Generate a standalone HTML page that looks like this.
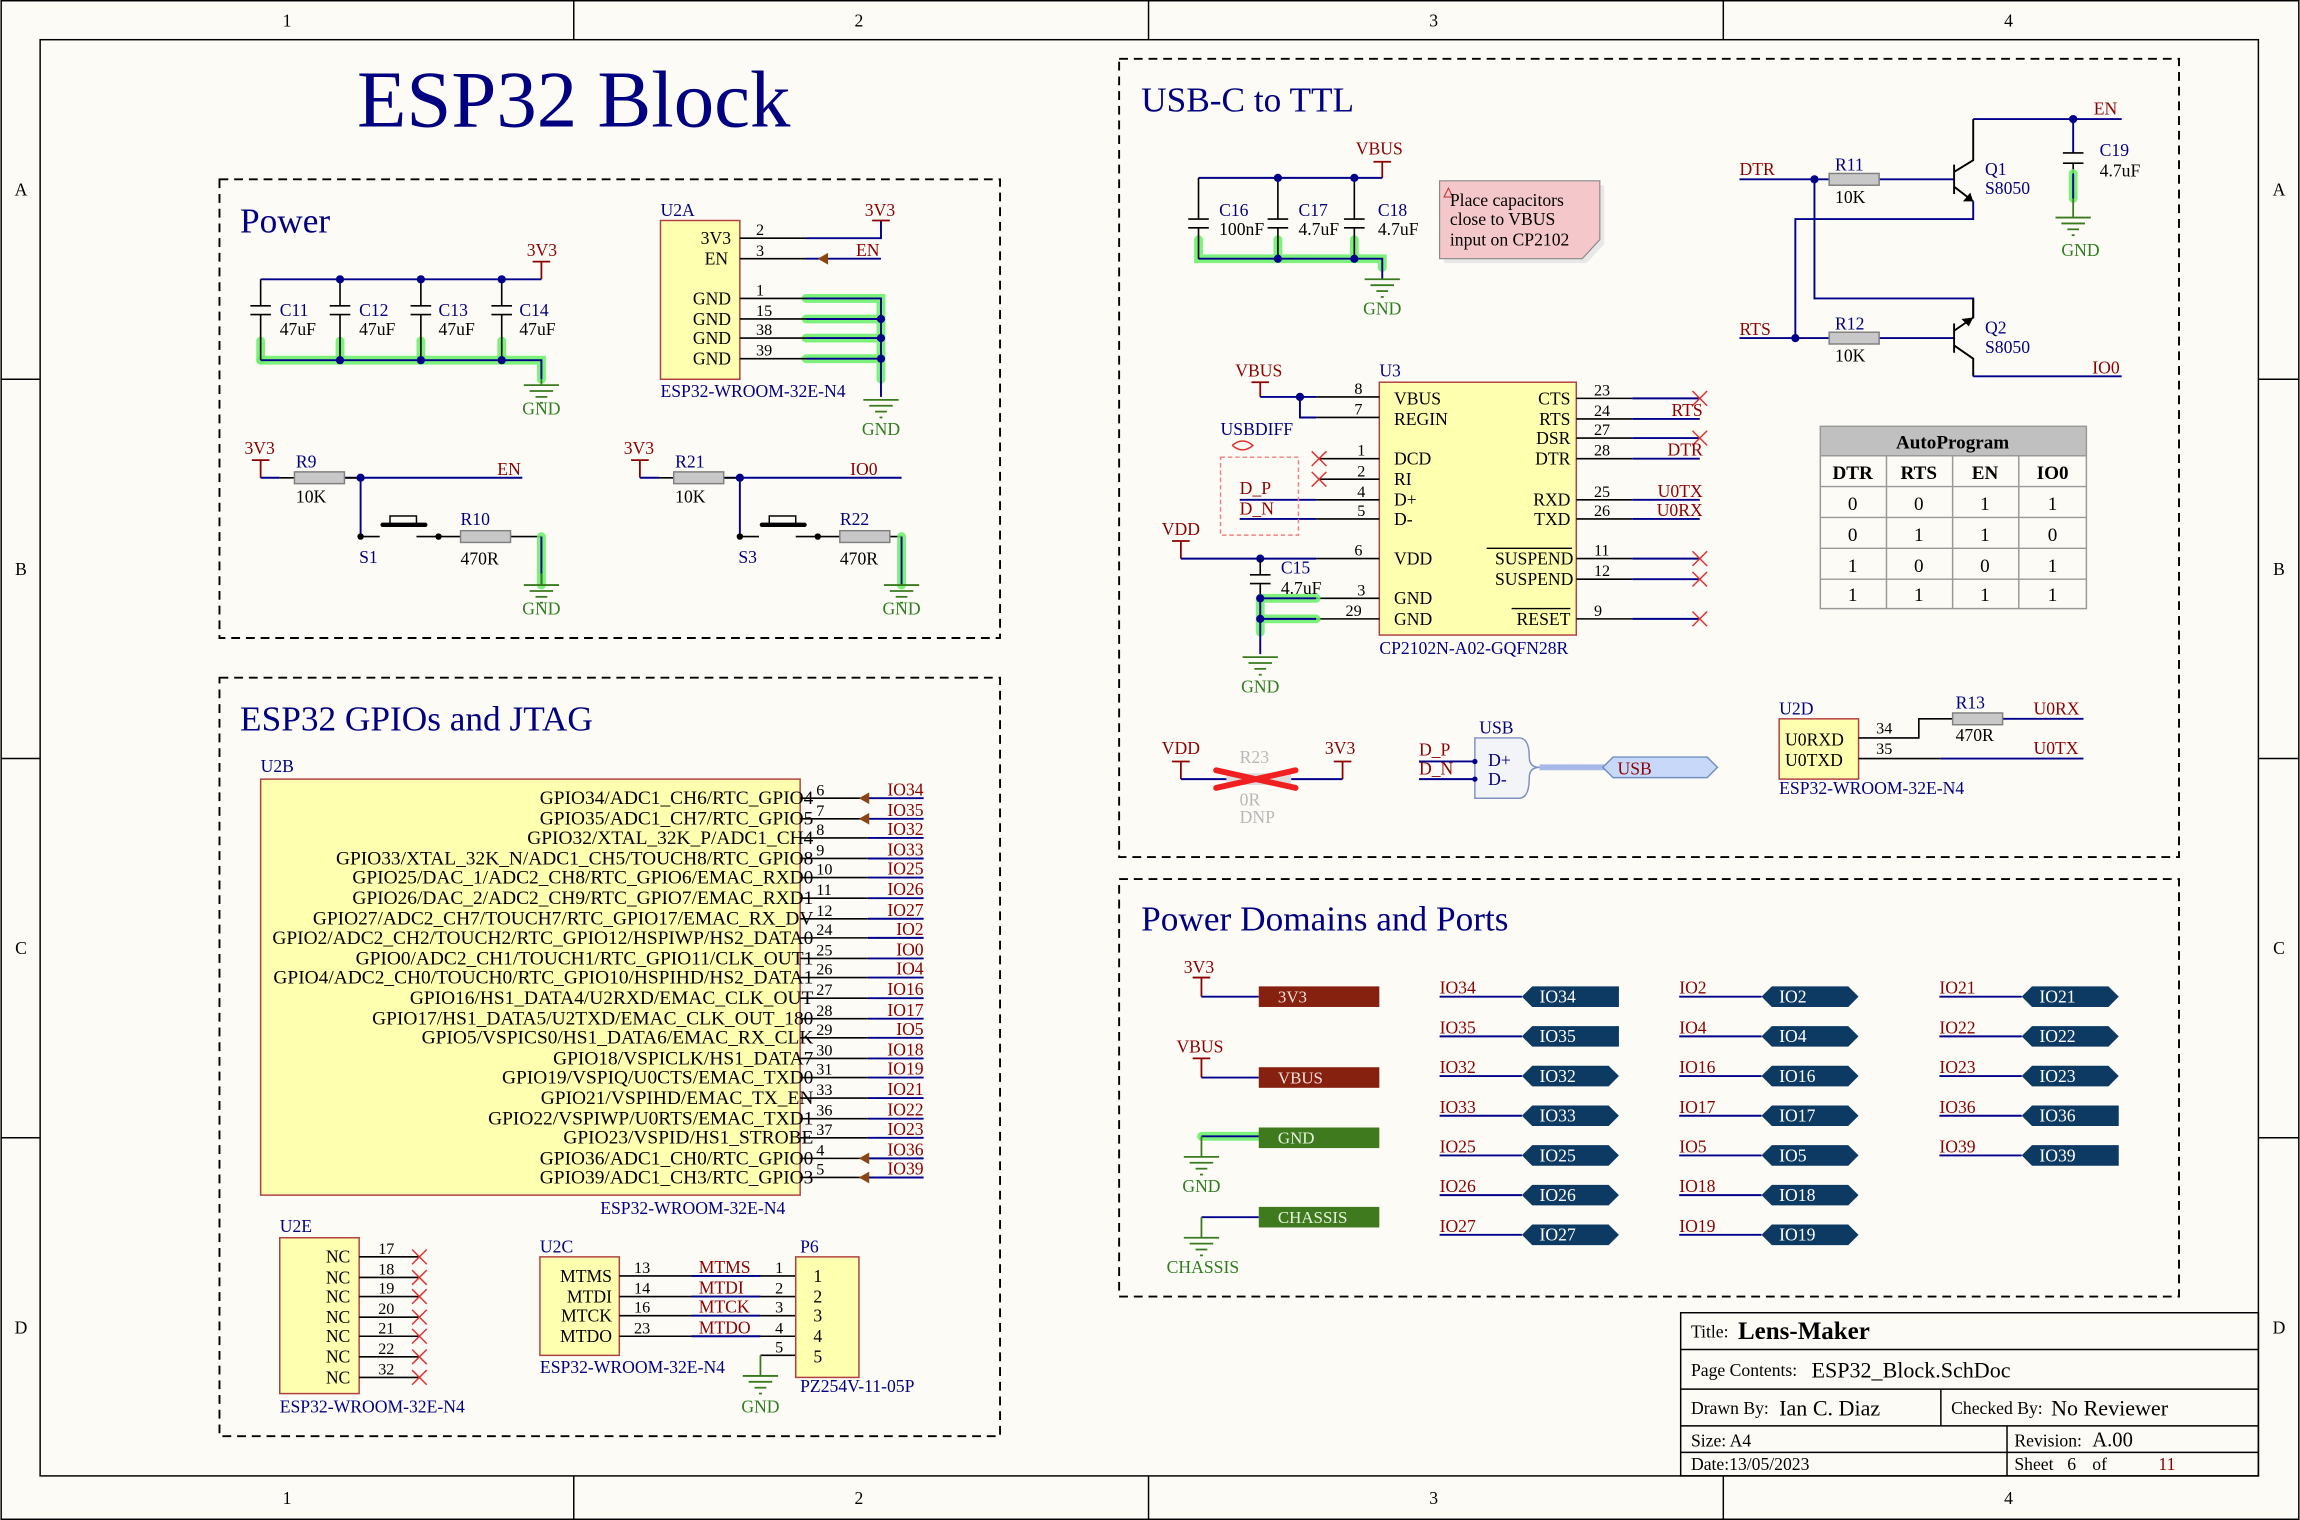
<!DOCTYPE html>
<html><head><meta charset="utf-8"><style>
html,body{margin:0;padding:0;background:#fff}
svg{display:block}
text{font-family:"Liberation Serif",serif}
.n{fill:#000080}.r{fill:#8b0000}.k{fill:#000}.g{fill:#2e7d1e}.w{fill:#fff}
.wi{stroke:#00008b;stroke-width:1.3;fill:none}
.pl{stroke:#000;stroke-width:1.1;fill:none}
.rf{stroke:#8b0000;stroke-width:1.2;fill:none}
.gr{stroke:#3a7a1e;stroke-width:1.2;fill:none}
.hl{stroke:#66ee66;stroke-width:6;fill:none;stroke-linecap:round;opacity:.85}
.dash{stroke:#000;stroke-width:1.3;stroke-dasharray:6,4;fill:none}
.chip{fill:#ffffb0;stroke:#b04040;stroke-width:1}
.res{fill:#c8c8c8;stroke:#808080;stroke-width:1}
.xx{stroke:#e03030;stroke-width:1}
</style></head><body>
<svg width="2300" height="1520" viewBox="0 0 1564 1034" xmlns="http://www.w3.org/2000/svg">
<defs>
<g id="gnd"><line x1="-12" y1="0" x2="12" y2="0" class="gr"/><line x1="-8" y1="4" x2="8" y2="4" class="gr"/><line x1="-4" y1="8" x2="4" y2="8" class="gr"/><line x1="-1" y1="12" x2="1" y2="12" class="gr"/></g>
<g id="x"><line x1="-5" y1="-5" x2="5" y2="5" class="xx"/><line x1="-5" y1="5" x2="5" y2="-5" class="xx"/></g>
<g id="pbi"><polygon points="0,0 7,-7 66,-7 66,7 7,7" fill="#0d3a63"/></g>
<g id="pbb"><polygon points="0,0 7,-7 59,-7 66,0 59,7 7,7" fill="#0d3a63"/></g>
</defs>
<rect x="0" y="0" width="1564" height="1034" fill="#fdfbf6"/>
<rect x="0.5" y="0.5" width="1563" height="1033" fill="none" stroke="#000"/>
<rect x="27" y="27" width="1509" height="977" fill="#fdfbf6" stroke="#000"/>
<g stroke="#000" stroke-width="1"><line x1="390" y1="0" x2="390" y2="27"/><line x1="781" y1="0" x2="781" y2="27"/><line x1="1172" y1="0" x2="1172" y2="27"/>
<line x1="390" y1="1004" x2="390" y2="1034"/><line x1="781" y1="1004" x2="781" y2="1034"/><line x1="1172" y1="1004" x2="1172" y2="1034"/>
<line x1="0" y1="258" x2="27" y2="258"/><line x1="0" y1="516" x2="27" y2="516"/><line x1="0" y1="774" x2="27" y2="774"/>
<line x1="1536" y1="258" x2="1564" y2="258"/><line x1="1536" y1="516" x2="1564" y2="516"/><line x1="1536" y1="774" x2="1564" y2="774"/></g>
<g class="k" font-size="12" text-anchor="middle">
<text x="195" y="18">1</text><text x="584" y="18">2</text><text x="975" y="18">3</text><text x="1366" y="18">4</text>
<text x="195" y="1023">1</text><text x="584" y="1023">2</text><text x="975" y="1023">3</text><text x="1366" y="1023">4</text>
<text x="14" y="133">A</text><text x="14" y="391">B</text><text x="14" y="649">C</text><text x="14" y="907">D</text>
<text x="1550" y="133">A</text><text x="1550" y="391">B</text><text x="1550" y="649">C</text><text x="1550" y="907">D</text></g>

<text x="390" y="86" class="n" font-size="55" text-anchor="middle">ESP32 Block</text>

<rect x="149" y="122" width="531" height="312" class="dash"/>
<rect x="149" y="461" width="531" height="516" class="dash"/>
<rect x="761" y="40" width="721" height="543" class="dash"/>
<rect x="761" y="598" width="721" height="284" class="dash"/>
<text x="163" y="158" class="n" font-size="24">Power</text>
<text x="163" y="497" class="n" font-size="24">ESP32 GPIOs and JTAG</text>
<text x="776" y="76" class="n" font-size="24">USB-C to TTL</text>
<text x="776" y="633" class="n" font-size="24">Power Domains and Ports</text>

<text x="358" y="174" class="r" font-size="12">3V3</text>
<path d="M362 178H374M368 178V190" class="rf"/>
<path d="M177 190H368" class="wi"/>
<path d="M177 245H368V258" class="hl"/><path d="M177 232V245M231 232V245M286 232V245M341 232V245" class="hl"/>
<path d="M177 245H368V258" class="wi"/>
<g class="pl"><path d="M177 190V208M170 208H184M170 214H184M177 214V245"/><path d="M231 190V208M224 208H238M224 214H238M231 214V245"/><path d="M286 190V208M279 208H293M279 214H293M286 214V245"/><path d="M341 190V208M334 208H348M334 214H348M341 214V245"/></g>
<g fill="#00008b"><circle cx="231" cy="190" r="2.8"/><circle cx="286" cy="190" r="2.8"/><circle cx="341" cy="190" r="2.8"/><circle cx="231" cy="245" r="2.8"/><circle cx="286" cy="245" r="2.8"/><circle cx="341" cy="245" r="2.8"/></g>
<g font-size="12"><text x="190" y="215" class="n">C11</text><text x="190" y="228" class="k">47uF</text><text x="244" y="215" class="n">C12</text><text x="244" y="228" class="k">47uF</text><text x="298" y="215" class="n">C13</text><text x="298" y="228" class="k">47uF</text><text x="353" y="215" class="n">C14</text><text x="353" y="228" class="k">47uF</text></g>
<path d="M368 258V262" class="gr"/><use href="#gnd" x="368" y="262"/><text x="368" y="282" class="g" font-size="12" text-anchor="middle">GND</text>

<text x="449" y="147" class="n" font-size="12">U2A</text>
<rect x="449" y="150" width="54" height="108" class="chip"/>
<g font-size="12" class="k" text-anchor="end"><text x="497" y="166">3V3</text><text x="495" y="180">EN</text><text x="497" y="207">GND</text><text x="497" y="221">GND</text><text x="497" y="234">GND</text><text x="497" y="248">GND</text></g>
<path d="M548 203H599V258M548 217H599M548 230H599M548 244H599" class="hl"/>
<g class="pl"><path d="M503 162H548M503 176H548M503 203H548M503 217H548M503 230H548M503 244H548"/></g>
<path d="M548 162H599V150M548 176H599M548 203H599V270M548 217H599M548 230H599M548 244H599" class="wi"/>
<path d="M593 150H605" class="rf"/>
<polygon points="556,176 563,172 563,180" fill="#8b4513"/>
<g fill="#00008b"><circle cx="599" cy="217" r="2.8"/><circle cx="599" cy="230" r="2.8"/><circle cx="599" cy="244" r="2.8"/></g>
<g font-size="11" class="k"><text x="514" y="160">2</text><text x="514" y="174">3</text><text x="514" y="201">1</text><text x="514" y="215">15</text><text x="514" y="228">38</text><text x="514" y="242">39</text></g>
<text x="588" y="147" class="r" font-size="12">3V3</text><text x="582" y="174" class="r" font-size="12">EN</text>
<text x="449" y="270" class="n" font-size="12">ESP32-WROOM-32E-N4</text>
<use href="#gnd" x="599" y="272"/><text x="599" y="296" class="g" font-size="12" text-anchor="middle">GND</text>

<g>
<text x="166" y="309" class="r" font-size="12">3V3</text>
<path d="M171 313H183M177 313V325" class="rf"/>
<path d="M177 325H190M234 325H355M245 325V365" class="wi"/>
<path d="M190 325H200M234 325H245" class="pl"/>
<rect x="200" y="321" width="34" height="8" class="res"/>
<circle cx="245" cy="325" r="2.8" fill="#00008b"/>
<path d="M245 365H258M283 365H298M298 365H313M347 365H368" class="pl"/>
<circle cx="245" cy="365" r="2.2" fill="#000"/><circle cx="298" cy="365" r="2.2" fill="#000"/>
<path d="M260 357H289" stroke="#000" stroke-width="3" stroke-linecap="round"/>
<rect x="265" y="351" width="18" height="6" fill="none" stroke="#000"/>
<rect x="313" y="361" width="34" height="8" class="res"/>
<path d="M368 365V398" class="hl"/><path d="M368 365V398" class="wi"/><path d="M368 390V398" class="gr"/>
<use href="#gnd" x="368" y="398"/>
<g font-size="12"><text x="201" y="318" class="n">R9</text><text x="201" y="342" class="k">10K</text><text x="244" y="383" class="n">S1</text><text x="313" y="357" class="n">R10</text><text x="313" y="384" class="k">470R</text><text x="355" y="418" class="g">GND</text><text x="338" y="323" class="r">EN</text></g>
</g>
<g transform="translate(258,0)">
<text x="166" y="309" class="r" font-size="12">3V3</text>
<path d="M171 313H183M177 313V325" class="rf"/>
<path d="M177 325H190M234 325H355M245 325V365" class="wi"/>
<path d="M190 325H200M234 325H245" class="pl"/>
<rect x="200" y="321" width="34" height="8" class="res"/>
<circle cx="245" cy="325" r="2.8" fill="#00008b"/>
<path d="M245 365H258M283 365H298M298 365H313M347 365H355" class="pl"/>
<circle cx="245" cy="365" r="2.2" fill="#000"/><circle cx="298" cy="365" r="2.2" fill="#000"/>
<path d="M260 357H289" stroke="#000" stroke-width="3" stroke-linecap="round"/>
<rect x="265" y="351" width="18" height="6" fill="none" stroke="#000"/>
<rect x="313" y="361" width="34" height="8" class="res"/>
<path d="M355 365V398" class="hl"/><path d="M355 365V398" class="wi"/>
<use href="#gnd" x="355" y="398"/>
<g font-size="12"><text x="201" y="318" class="n">R21</text><text x="201" y="342" class="k">10K</text><text x="244" y="383" class="n">S3</text><text x="313" y="357" class="n">R22</text><text x="313" y="384" class="k">470R</text><text x="342" y="418" class="g">GND</text><text x="320" y="323" class="r">IO0</text></g>
</g>

<text x="177" y="525" class="n" font-size="12">U2B</text>
<rect x="177" y="530" width="367" height="283" class="chip"/>
<g font-size="13.2" class="k" text-anchor="end">
<text x="553" y="547">GPIO34/ADC1_CH6/RTC_GPIO4</text>
<text x="553" y="561">GPIO35/ADC1_CH7/RTC_GPIO5</text>
<text x="553" y="574">GPIO32/XTAL_32K_P/ADC1_CH4</text>
<text x="553" y="588">GPIO33/XTAL_32K_N/ADC1_CH5/TOUCH8/RTC_GPIO8</text>
<text x="553" y="601">GPIO25/DAC_1/ADC2_CH8/RTC_GPIO6/EMAC_RXD0</text>
<text x="553" y="615">GPIO26/DAC_2/ADC2_CH9/RTC_GPIO7/EMAC_RXD1</text>
<text x="553" y="629">GPIO27/ADC2_CH7/TOUCH7/RTC_GPIO17/EMAC_RX_DV</text>
<text x="553" y="642">GPIO2/ADC2_CH2/TOUCH2/RTC_GPIO12/HSPIWP/HS2_DATA0</text>
<text x="553" y="656">GPIO0/ADC2_CH1/TOUCH1/RTC_GPIO11/CLK_OUT1</text>
<text x="553" y="669">GPIO4/ADC2_CH0/TOUCH0/RTC_GPIO10/HSPIHD/HS2_DATA1</text>
<text x="553" y="683">GPIO16/HS1_DATA4/U2RXD/EMAC_CLK_OUT</text>
<text x="553" y="697">GPIO17/HS1_DATA5/U2TXD/EMAC_CLK_OUT_180</text>
<text x="553" y="710">GPIO5/VSPICS0/HS1_DATA6/EMAC_RX_CLK</text>
<text x="553" y="724">GPIO18/VSPICLK/HS1_DATA7</text>
<text x="553" y="737">GPIO19/VSPIQ/U0CTS/EMAC_TXD0</text>
<text x="553" y="751">GPIO21/VSPIHD/EMAC_TX_EN</text>
<text x="553" y="765">GPIO22/VSPIWP/U0RTS/EMAC_TXD1</text>
<text x="553" y="778">GPIO23/VSPID/HS1_STROBE</text>
<text x="553" y="792">GPIO36/ADC1_CH0/RTC_GPIO0</text>
<text x="553" y="805">GPIO39/ADC1_CH3/RTC_GPIO3</text>
</g>
<g class="pl"><path d="M544 543H590M544 557H590M544 570H590M544 584H590M544 597H590M544 611H590M544 625H590M544 638H590M544 652H590M544 665H590M544 679H590M544 693H590M544 706H590M544 720H590M544 733H590M544 747H590M544 761H590M544 774H590M544 788H590M544 801H590"/></g>
<g class="wi"><path d="M590 543H628M590 557H628M590 570H628M590 584H628M590 597H628M590 611H628M590 625H628M590 638H628M590 652H628M590 665H628M590 679H628M590 693H628M590 706H628M590 720H628M590 733H628M590 747H628M590 761H628M590 774H628M590 788H628M590 801H628"/></g>
<g fill="#8b4513"><polygon points="584,543 591,539 591,547"/><polygon points="584,557 591,553 591,561"/><polygon points="584,788 591,784 591,792"/><polygon points="584,801 591,797 591,805"/></g>
<g font-size="11" class="k"><text x="555" y="541">6</text><text x="555" y="555">7</text><text x="555" y="568">8</text><text x="555" y="582">9</text><text x="555" y="595">10</text><text x="555" y="609">11</text><text x="555" y="623">12</text><text x="555" y="636">24</text><text x="555" y="650">25</text><text x="555" y="663">26</text><text x="555" y="677">27</text><text x="555" y="691">28</text><text x="555" y="704">29</text><text x="555" y="718">30</text><text x="555" y="731">31</text><text x="555" y="745">33</text><text x="555" y="759">36</text><text x="555" y="772">37</text><text x="555" y="786">4</text><text x="555" y="799">5</text></g>
<g font-size="12" class="r" text-anchor="end"><text x="628" y="541">IO34</text><text x="628" y="555">IO35</text><text x="628" y="568">IO32</text><text x="628" y="582">IO33</text><text x="628" y="595">IO25</text><text x="628" y="609">IO26</text><text x="628" y="623">IO27</text><text x="628" y="636">IO2</text><text x="628" y="650">IO0</text><text x="628" y="663">IO4</text><text x="628" y="677">IO16</text><text x="628" y="691">IO17</text><text x="628" y="704">IO5</text><text x="628" y="718">IO18</text><text x="628" y="731">IO19</text><text x="628" y="745">IO21</text><text x="628" y="759">IO22</text><text x="628" y="772">IO23</text><text x="628" y="786">IO36</text><text x="628" y="799">IO39</text></g>
<text x="408" y="826" class="n" font-size="12">ESP32-WROOM-32E-N4</text>

<text x="190" y="838" class="n" font-size="12">U2E</text>
<rect x="190" y="842" width="54" height="106" class="chip"/>
<g font-size="12" class="k" text-anchor="end"><text x="238" y="859">NC</text><text x="238" y="873">NC</text><text x="238" y="886">NC</text><text x="238" y="900">NC</text><text x="238" y="913">NC</text><text x="238" y="927">NC</text><text x="238" y="941">NC</text></g>
<path d="M244 855H285M244 869H285M244 882H285M244 896H285M244 909H285M244 923H285M244 937H285" class="pl"/>
<use href="#x" x="285" y="855"/><use href="#x" x="285" y="869"/><use href="#x" x="285" y="882"/><use href="#x" x="285" y="896"/><use href="#x" x="285" y="909"/><use href="#x" x="285" y="923"/><use href="#x" x="285" y="937"/>
<g font-size="11" class="k"><text x="257" y="853">17</text><text x="257" y="867">18</text><text x="257" y="880">19</text><text x="257" y="894">20</text><text x="257" y="907">21</text><text x="257" y="921">22</text><text x="257" y="935">32</text></g>
<text x="190" y="961" class="n" font-size="12">ESP32-WROOM-32E-N4</text>

<text x="367" y="852" class="n" font-size="12">U2C</text>
<rect x="367" y="855" width="54" height="67" class="chip"/>
<g font-size="12" class="k" text-anchor="end"><text x="416" y="872">MTMS</text><text x="416" y="886">MTDI</text><text x="416" y="899">MTCK</text><text x="416" y="913">MTDO</text></g>
<path d="M421 868H541M421 882H541M421 895H541M421 909H541M517 922H541" class="pl"/>
<path d="M470 868H517M470 882H517M470 895H517M470 909H517" class="wi"/>
<path d="M517 922V936" class="gr"/><use href="#gnd" x="517" y="936"/><text x="517" y="961" class="g" font-size="12" text-anchor="middle">GND</text>
<g font-size="11" class="k"><text x="431" y="866">13</text><text x="431" y="880">14</text><text x="431" y="893">16</text><text x="431" y="907">23</text>
<text x="527" y="866">1</text><text x="527" y="880">2</text><text x="527" y="893">3</text><text x="527" y="907">4</text><text x="527" y="920">5</text></g>
<g font-size="12" class="r"><text x="475" y="866">MTMS</text><text x="475" y="880">MTDI</text><text x="475" y="893">MTCK</text><text x="475" y="907">MTDO</text></g>
<text x="367" y="934" class="n" font-size="12">ESP32-WROOM-32E-N4</text>
<text x="544" y="852" class="n" font-size="12">P6</text>
<rect x="541" y="855" width="43" height="82" class="chip"/>
<g font-size="12" class="k"><text x="553" y="872">1</text><text x="553" y="886">2</text><text x="553" y="899">3</text><text x="553" y="913">4</text><text x="553" y="927">5</text></g>
<text x="544" y="947" class="n" font-size="12">PZ254V-11-05P</text>

<text x="922" y="105" class="r" font-size="12">VBUS</text>
<path d="M934 110H946M940 110V121" class="rf"/>
<path d="M815 121H940" class="wi"/>
<path d="M815 163V176H940V182M869 163V176M921 163V176" class="hl"/>
<path d="M815 176H940V190" class="wi"/>
<g class="pl"><path d="M815 121V149M808 149H822M808 155H822M815 155V176"/><path d="M869 121V149M862 149H876M862 155H876M869 155V176"/><path d="M921 121V149M914 149H928M914 155H928M921 155V176"/></g>
<g fill="#00008b"><circle cx="869" cy="121" r="2.8"/><circle cx="921" cy="121" r="2.8"/><circle cx="869" cy="176" r="2.8"/><circle cx="921" cy="176" r="2.8"/></g>
<use href="#gnd" x="940" y="190"/><text x="940" y="214" class="g" font-size="12" text-anchor="middle">GND</text>
<g font-size="12"><text x="829" y="147" class="n">C16</text><text x="829" y="160" class="k">100nF</text><text x="883" y="147" class="n">C17</text><text x="883" y="160" class="k">4.7uF</text><text x="937" y="147" class="n">C18</text><text x="937" y="160" class="k">4.7uF</text></g>
<polygon points="982,126 1091,126 1091,166 1079,179 982,179" fill="#e8e8e8"/>
<polygon points="979,123 1088,123 1088,163 1076,176 979,176" fill="#f4c8ca" stroke="#888" stroke-width="0.8"/>
<polygon points="982,134 985,128 988,134" fill="none" stroke="#c03030" stroke-width="0.7"/>
<g font-size="12" class="k"><text x="986" y="140">Place capacitors</text><text x="986" y="153">close to VBUS</text><text x="986" y="167">input on CP2102</text></g>

<text x="840" y="256" class="r" font-size="12">VBUS</text>
<path d="M851 260H863M857 260V270" class="rf"/>
<path d="M857 270H895M884 270V284H895" class="wi"/>
<circle cx="884" cy="270" r="2.8" fill="#00008b"/>
<text x="938" y="256" class="n" font-size="12">U3</text>
<rect x="938" y="260" width="134" height="172" class="chip"/>
<g font-size="12" class="k"><text x="948" y="275">VBUS</text><text x="948" y="289">REGIN</text><text x="948" y="316">DCD</text><text x="948" y="330">RI</text><text x="948" y="344">D+</text><text x="948" y="357">D-</text><text x="948" y="384">VDD</text><text x="948" y="411">GND</text><text x="948" y="425">GND</text></g>
<g font-size="12" class="k" text-anchor="end"><text x="1068" y="275">CTS</text><text x="1068" y="289">RTS</text><text x="1068" y="302">DSR</text><text x="1068" y="316">DTR</text><text x="1068" y="344">RXD</text><text x="1068" y="357">TXD</text><text x="1070" y="384">SUSPEND</text><text x="1070" y="398">SUSPEND</text><text x="1068" y="425">RESET</text></g>
<path d="M1011 373H1069M1028 414H1068" stroke="#000" stroke-width="0.9"/>
<g class="pl"><path d="M895 270H938M895 284H938M897 312H938M897 326H938M895 340H938M895 353H938M895 380H938M895 407H938M895 421H938"/>
<path d="M1072 271H1110M1072 285H1110M1072 298H1110M1072 312H1110M1072 340H1110M1072 353H1110M1072 380H1110M1072 394H1110M1072 421H1110"/></g>
<g class="wi"><path d="M1110 271H1156M1110 285H1156M1110 298H1156M1110 312H1156M1110 340H1156M1110 353H1156M1110 380H1156M1110 394H1156M1110 421H1156"/>
<path d="M843 340H895M843 353H895"/></g>
<use href="#x" x="1156" y="271"/><use href="#x" x="1156" y="298"/><use href="#x" x="1156" y="380"/><use href="#x" x="1156" y="394"/><use href="#x" x="1156" y="421"/>
<use href="#x" x="897" y="312"/><use href="#x" x="897" y="326"/>
<g font-size="11" class="k"><text x="921" y="268">8</text><text x="921" y="282">7</text><text x="923" y="310">1</text><text x="923" y="324">2</text><text x="923" y="338">4</text><text x="923" y="351">5</text><text x="921" y="378">6</text><text x="923" y="405">3</text><text x="915" y="419">29</text>
<text x="1084" y="269">23</text><text x="1084" y="283">24</text><text x="1084" y="296">27</text><text x="1084" y="310">28</text><text x="1084" y="338">25</text><text x="1084" y="351">26</text><text x="1084" y="378">11</text><text x="1084" y="392">12</text><text x="1084" y="419">9</text></g>
<g font-size="12" class="r" text-anchor="end"><text x="1158" y="283">RTS</text><text x="1158" y="310">DTR</text><text x="1158" y="338">U0TX</text><text x="1158" y="351">U0RX</text></g>
<text x="830" y="296" class="n" font-size="12">USBDIFF</text>
<path d="M838 303Q845 297 852 303Q845 309 838 303" fill="none" stroke="#e03030"/>
<rect x="830" y="311" width="53" height="53" fill="none" stroke="#f08080" stroke-dasharray="3,2"/>
<g font-size="12" class="r"><text x="843" y="336">D_P</text><text x="843" y="350">D_N</text></g>
<text x="790" y="364" class="r" font-size="12">VDD</text>
<path d="M797 368H809M803 368V380" class="rf"/>
<path d="M803 380H895" class="wi"/>
<circle cx="857" cy="380" r="2.8" fill="#00008b"/>
<path d="M857 380V391M850 391H864M850 397H864M857 397V407" class="pl"/>
<path d="M857 407V430M857 407H895M857 421H895" class="hl"/>
<path d="M857 407V445M857 407H895M857 421H895" class="wi"/>
<circle cx="857" cy="407" r="2.8" fill="#00008b"/><circle cx="857" cy="421" r="2.8" fill="#00008b"/>
<use href="#gnd" x="857" y="447"/><text x="857" y="471" class="g" font-size="12" text-anchor="middle">GND</text>
<text x="871" y="390" class="n" font-size="12">C15</text><text x="871" y="404" class="k" font-size="12">4.7uF</text>
<text x="938" y="445" class="n" font-size="12">CP2102N-A02-GQFN28R</text>

<text x="790" y="513" class="r" font-size="12">VDD</text>
<path d="M797 518H809M803 518V530" class="rf"/>
<path d="M803 530H834M878 530H913" class="wi"/>
<text x="901" y="513" class="r" font-size="12">3V3</text>
<path d="M907 518H919M913 518V530" class="rf"/>
<rect x="834" y="526" width="44" height="8" fill="#ddd"/>
<path d="M827 524L881 536M827 536L881 524" stroke="#f02020" stroke-width="4" stroke-linecap="round"/>
<g font-size="12" fill="#b8b8b8"><text x="843" y="519">R23</text><text x="843" y="548">0R</text><text x="843" y="560">DNP</text></g>

<text x="1006" y="499" class="n" font-size="12">USB</text>
<path d="M1003 502H1033Q1040 502 1040 515Q1040 522 1047 522Q1040 522 1040 529Q1040 543 1033 543H1003Z" fill="#f2f4f8" stroke="#8090c0"/>
<path d="M965 518H1003M965 530H1003" class="wi"/>
<circle cx="1003" cy="518" r="1.8" fill="#00008b"/><circle cx="1003" cy="530" r="1.8" fill="#00008b"/>
<g font-size="12" class="r"><text x="965" y="514">D_P</text><text x="965" y="527">D_N</text></g>
<g font-size="12" class="n"><text x="1012" y="521">D+</text><text x="1012" y="534">D-</text></g>
<path d="M1047 522H1092" stroke="#a8b8e8" stroke-width="4"/>
<polygon points="1090,522 1097,515 1161,515 1168,522 1161,529 1097,529" fill="#c8d8f8" stroke="#7090c0"/>
<text x="1100" y="527" class="r" font-size="12">USB</text>

<text x="1183" y="119" class="r" font-size="12">DTR</text>
<path d="M1183 122H1244M1278 122H1329M1234 122V203H1342V216" class="wi"/>
<rect x="1244" y="118" width="34" height="8" class="res"/>
<circle cx="1234" cy="122" r="2.8" fill="#00008b"/>
<path d="M1329 112V132M1329 117L1342 109V81M1329 127L1342 137" stroke="#000" stroke-width="1.3" fill="none"/>
<polygon points="1342,137 1335,137 1340,131" fill="#000"/>
<path d="M1342 81H1443M1342 137V149H1221V230M1410 81V104" class="wi"/>
<circle cx="1410" cy="81" r="2.8" fill="#00008b"/>
<path d="M1403 104H1417M1403 111H1417M1410 111V135" class="pl"/>
<path d="M1410 118V135" class="hl"/><path d="M1410 118V135" class="wi"/><path d="M1410 135V148" class="gr"/>
<use href="#gnd" x="1410" y="148"/><text x="1415" y="174" class="g" font-size="12" text-anchor="middle">GND</text>
<text x="1424" y="78" class="r" font-size="12">EN</text>
<g font-size="12"><text x="1428" y="106" class="n">C19</text><text x="1428" y="120" class="k">4.7uF</text><text x="1248" y="116" class="n">R11</text><text x="1248" y="138" class="k">10K</text><text x="1350" y="119" class="n">Q1</text><text x="1350" y="132" class="n">S8050</text>
<text x="1248" y="224" class="n">R12</text><text x="1248" y="246" class="k">10K</text><text x="1350" y="227" class="n">Q2</text><text x="1350" y="240" class="n">S8050</text></g>
<text x="1183" y="228" class="r" font-size="12">RTS</text>
<path d="M1183 230H1244M1278 230H1329" class="wi"/>
<rect x="1244" y="226" width="34" height="8" class="res"/>
<circle cx="1221" cy="230" r="2.8" fill="#00008b"/>
<path d="M1329 220V240M1329 225L1342 216V203M1329 235L1342 244V256" stroke="#000" stroke-width="1.3" fill="none"/>
<polygon points="1342,216 1334,217 1339,222" fill="#000"/>
<path d="M1342 256H1443" class="wi"/>
<text x="1423" y="254" class="r" font-size="12">IO0</text>

<rect x="1238" y="290" width="181" height="20" fill="#c0c0c0"/>
<g stroke="#999" stroke-width="1" fill="none"><rect x="1238" y="290" width="181" height="124"/>
<path d="M1238 310H1419M1238 331H1419M1238 352H1419M1238 373H1419M1238 394H1419M1283 310V414M1328 310V414M1373 310V414"/></g>
<g font-size="13" text-anchor="middle" fill="#000">
<text x="1328" y="305" font-family="Liberation Sans" font-weight="bold">AutoProgram</text>
<g font-weight="bold"><text x="1260" y="326" font-family="Liberation Sans">DTR</text><text x="1305" y="326" font-family="Liberation Sans">RTS</text><text x="1350" y="326" font-family="Liberation Sans">EN</text><text x="1396" y="326" font-family="Liberation Sans">IO0</text></g>
<text x="1260" y="347" font-family="Liberation Sans">0</text><text x="1305" y="347" font-family="Liberation Sans">0</text><text x="1350" y="347" font-family="Liberation Sans">1</text><text x="1396" y="347" font-family="Liberation Sans">1</text>
<text x="1260" y="368" font-family="Liberation Sans">0</text><text x="1305" y="368" font-family="Liberation Sans">1</text><text x="1350" y="368" font-family="Liberation Sans">1</text><text x="1396" y="368" font-family="Liberation Sans">0</text>
<text x="1260" y="389" font-family="Liberation Sans">1</text><text x="1305" y="389" font-family="Liberation Sans">0</text><text x="1350" y="389" font-family="Liberation Sans">0</text><text x="1396" y="389" font-family="Liberation Sans">1</text>
<text x="1260" y="409" font-family="Liberation Sans">1</text><text x="1305" y="409" font-family="Liberation Sans">1</text><text x="1350" y="409" font-family="Liberation Sans">1</text><text x="1396" y="409" font-family="Liberation Sans">1</text>
</g>

<text x="1210" y="486" class="n" font-size="12">U2D</text>
<rect x="1210" y="489" width="54" height="41" class="chip"/>
<g font-size="12" class="k"><text x="1214" y="507">U0RXD</text><text x="1214" y="521">U0TXD</text></g>
<path d="M1264 502H1305V489H1328M1264 516H1320" class="pl"/>
<path d="M1362 489H1417M1320 516H1417" class="wi"/>
<rect x="1328" y="485" width="34" height="8" class="res"/>
<g font-size="11" class="k"><text x="1276" y="499">34</text><text x="1276" y="513">35</text></g>
<g font-size="12"><text x="1330" y="482" class="n">R13</text><text x="1330" y="504" class="k">470R</text><text x="1383" y="486" class="r">U0RX</text><text x="1383" y="513" class="r">U0TX</text><text x="1210" y="540" class="n">ESP32-WROOM-32E-N4</text></g>

<text x="805" y="662" class="r" font-size="12">3V3</text>
<path d="M811 665H823M817 665V678" class="rf"/><path d="M817 678H856" class="wi"/>
<rect x="856" y="671" width="82" height="14" fill="#86200f"/><text x="869" y="682" fill="#f4e0dc" font-size="11.5">3V3</text>
<text x="800" y="716" class="r" font-size="12">VBUS</text>
<path d="M811 720H823M817 720V733" class="rf"/><path d="M817 733H856" class="wi"/>
<rect x="856" y="726" width="82" height="14" fill="#86200f"/><text x="869" y="737" fill="#f4e0dc" font-size="11.5">VBUS</text>
<path d="M817 773H856" class="hl"/><path d="M817 773H856" class="wi"/><path d="M817 773V787" class="gr"/>
<use href="#gnd" x="817" y="787"/><text x="817" y="811" class="g" font-size="12" text-anchor="middle">GND</text>
<rect x="856" y="767" width="82" height="14" fill="#3f7a1f"/><text x="869" y="778" fill="#e8f4e0" font-size="11.5">GND</text>
<path d="M817 828H856" class="wi"/><path d="M817 828V842" class="gr"/>
<use href="#gnd" x="817" y="842"/><text x="818" y="866" class="g" font-size="12" text-anchor="middle">CHASSIS</text>
<rect x="856" y="821" width="82" height="14" fill="#3f7a1f"/><text x="869" y="832" fill="#e8f4e0" font-size="11.5">CHASSIS</text>

<g font-size="12" class="r">
<text x="979" y="676">IO34</text><text x="979" y="703">IO35</text><text x="979" y="730">IO32</text><text x="979" y="757">IO33</text><text x="979" y="784">IO25</text><text x="979" y="811">IO26</text><text x="979" y="838">IO27</text>
<text x="1142" y="676">IO2</text><text x="1142" y="703">IO4</text><text x="1142" y="730">IO16</text><text x="1142" y="757">IO17</text><text x="1142" y="784">IO5</text><text x="1142" y="811">IO18</text><text x="1142" y="838">IO19</text>
<text x="1319" y="676">IO21</text><text x="1319" y="703">IO22</text><text x="1319" y="730">IO23</text><text x="1319" y="757">IO36</text><text x="1319" y="784">IO39</text></g>
<g class="wi"><path d="M979 678H1035M979 705H1035M979 732H1035M979 759H1035M979 786H1035M979 813H1035M979 840H1035"/>
<path d="M1142 678H1198M1142 705H1198M1142 732H1198M1142 759H1198M1142 786H1198M1142 813H1198M1142 840H1198"/>
<path d="M1319 678H1375M1319 705H1375M1319 732H1375M1319 759H1375M1319 786H1375"/></g>
<use href="#pbi" x="1035" y="678"/><use href="#pbi" x="1035" y="705"/><use href="#pbb" x="1035" y="732"/><use href="#pbb" x="1035" y="759"/><use href="#pbb" x="1035" y="786"/><use href="#pbb" x="1035" y="813"/><use href="#pbb" x="1035" y="840"/>
<use href="#pbb" x="1198" y="678"/><use href="#pbb" x="1198" y="705"/><use href="#pbb" x="1198" y="732"/><use href="#pbb" x="1198" y="759"/><use href="#pbb" x="1198" y="786"/><use href="#pbb" x="1198" y="813"/><use href="#pbb" x="1198" y="840"/>
<use href="#pbb" x="1375" y="678"/><use href="#pbb" x="1375" y="705"/><use href="#pbb" x="1375" y="732"/><use href="#pbi" x="1375" y="759"/><use href="#pbi" x="1375" y="786"/>
<g font-size="12" fill="#fff">
<text x="1047" y="682">IO34</text><text x="1047" y="709">IO35</text><text x="1047" y="736">IO32</text><text x="1047" y="763">IO33</text><text x="1047" y="790">IO25</text><text x="1047" y="817">IO26</text><text x="1047" y="844">IO27</text>
<text x="1210" y="682">IO2</text><text x="1210" y="709">IO4</text><text x="1210" y="736">IO16</text><text x="1210" y="763">IO17</text><text x="1210" y="790">IO5</text><text x="1210" y="817">IO18</text><text x="1210" y="844">IO19</text>
<text x="1387" y="682">IO21</text><text x="1387" y="709">IO22</text><text x="1387" y="736">IO23</text><text x="1387" y="763">IO36</text><text x="1387" y="790">IO39</text></g>

<g stroke="#000" stroke-width="1" fill="none"><rect x="1143" y="893" width="393" height="111"/>
<path d="M1143 918H1536M1143 945H1536M1143 970H1536M1143 988H1536M1320 945V970M1365 970V1004"/></g>
<g font-size="12" class="k">
<text x="1150" y="910">Title:</text><text x="1182" y="911" font-family="Liberation Sans" font-size="17" font-weight="bold">Lens-Maker</text>
<text x="1150" y="936">Page Contents:</text><text x="1232" y="937" font-size="15">ESP32_Block.SchDoc</text>
<text x="1150" y="962">Drawn By:</text><text x="1210" y="963" font-size="15">Ian C. Diaz</text>
<text x="1327" y="962">Checked By:</text><text x="1395" y="963" font-size="15">No Reviewer</text>
<text x="1150" y="984">Size: A4</text><text x="1370" y="984">Revision: </text><text x="1423" y="984" font-size="14">A.00</text>
<text x="1150" y="1000">Date:13/05/2023</text><text x="1370" y="1000">Sheet</text><text x="1406" y="1000">6</text><text x="1423" y="1000">of</text><text x="1468" y="1000" class="r">11</text></g>
</svg>
</body></html>
